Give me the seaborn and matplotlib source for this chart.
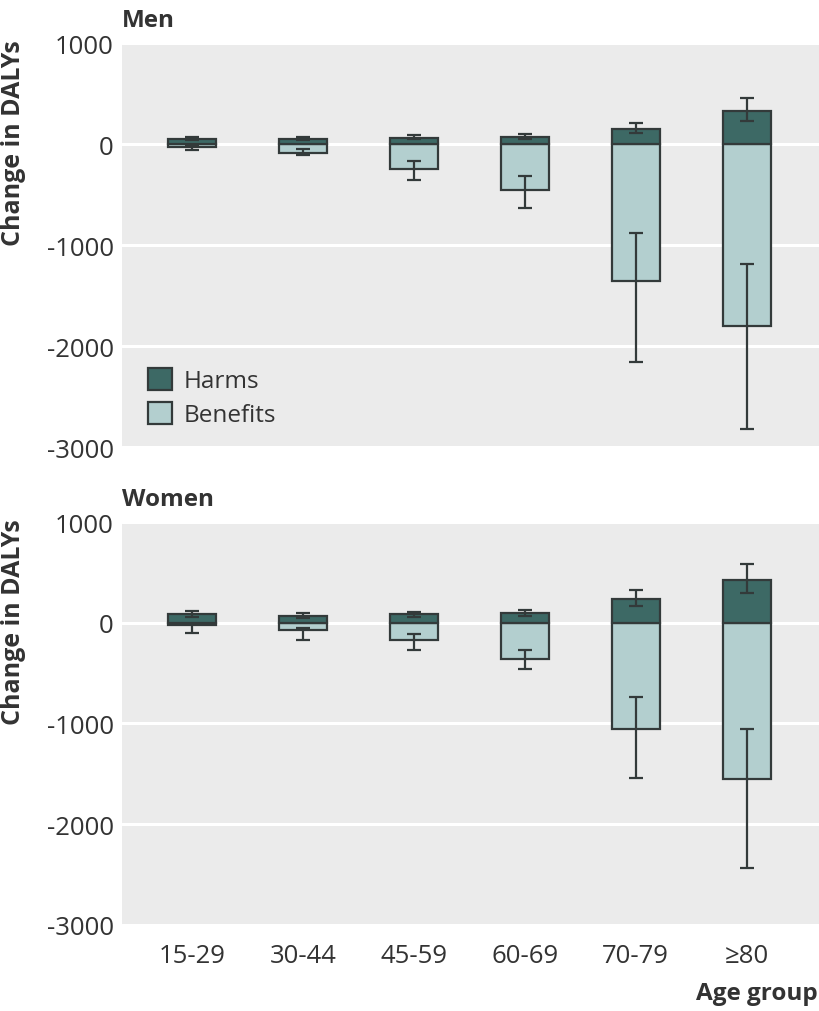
import matplotlib
matplotlib.use("Agg")
import matplotlib.pyplot as plt
import numpy as np
import pandas as pd
import seaborn as sns

# Age groups (x categories)
ages = ["15-29", "30-44", "45-59", "60-69", "70-79", "≥80"]

# Men: point estimates and intervals (change in DALYs)
men_harms = [51, 48, 64, 71, 149, 327]
men_harms_lo = [35, 35, 51, 45, 109, 228]
men_harms_hi = [74, 67, 94, 104, 205, 452]
men_benefits = [-28, -84, -252, -458, -1356, -1805]
men_benefits_lo = [-64, -111, -358, -633, -2158, -2819]
men_benefits_hi = [-10, -54, -170, -320, -878, -1191]

# Women
women_harms = [87, 66, 87, 99, 232, 424]
women_harms_lo = [60, 46, 60, 66, 166, 299]
women_harms_hi = [114, 92, 110, 125, 325, 580]
women_benefits = [-22, -73, -172, -356, -1052, -1550]
women_benefits_lo = [-102, -168, -275, -464, -1544, -2436]
women_benefits_hi = [-8, -53, -109, -266, -736, -1057]

y_ticks = [1000, 0, -1000, -2000, -3000]

HARM_COLOR = "#3d6965"
BENEFIT_COLOR = "#b3cfcf"
EDGE = "#333a3a"
TEXT = "#333333"
BG = "#ebebeb"

sns.set_theme(style="white")
plt.rcParams["font.family"] = ["Open Sans", "DejaVu Sans"]


def draw_panel(ax, harms, harms_lo, harms_hi, benefits, benefits_lo, benefits_hi, show_legend):
    df = pd.DataFrame({"age": ages, "harms": harms, "benefits": benefits})
    ax.set_facecolor(BG)
    ax.grid(axis="y", color="white", linewidth=2.2)
    ax.set_axisbelow(True)

    sns.barplot(data=df, x="age", y="benefits", order=ages, color=BENEFIT_COLOR,
                saturation=1, width=0.43, edgecolor=EDGE, linewidth=1.6,
                errorbar=None, label="Benefits", ax=ax)
    sns.barplot(data=df, x="age", y="harms", order=ages, color=HARM_COLOR,
                saturation=1, width=0.43, edgecolor=EDGE, linewidth=1.6,
                errorbar=None, label="Harms", ax=ax)

    pos = np.arange(len(ages))
    h = np.array(harms)
    b = np.array(benefits)
    ax.errorbar(pos, h, yerr=[h - np.array(harms_lo), np.array(harms_hi) - h],
                fmt="none", ecolor=EDGE, elinewidth=1.6, capsize=5, capthick=1.6, zorder=5)
    ax.errorbar(pos, b, yerr=[b - np.array(benefits_lo), np.array(benefits_hi) - b],
                fmt="none", ecolor=EDGE, elinewidth=1.6, capsize=5, capthick=1.6, zorder=5)

    ax.set_xlim(-0.63, 5.66)
    ax.set_ylim(-3000, 1000)
    ax.set_yticks(y_ticks)
    ax.set_yticklabels([str(t) for t in y_ticks])
    ax.set_xlabel("")
    ax.set_ylabel("")
    for s in ax.spines.values():
        s.set_visible(False)
    ax.tick_params(axis="y", length=0, pad=6, labelsize=18.5, labelcolor=TEXT)
    ax.tick_params(axis="x", direction="in", length=5, width=2, color="white",
                   pad=13, labelsize=18.5, labelcolor=TEXT)

    if show_legend:
        handles, labels = ax.get_legend_handles_labels()
        order = [labels.index("Harms"), labels.index("Benefits")]
        ax.legend([handles[i] for i in order], [labels[i] for i in order],
                  loc="lower left", bbox_to_anchor=(0.006, -0.005), frameon=False,
                  fontsize=17.5, handlelength=1.0, handleheight=1.0,
                  handletextpad=0.45, labelspacing=0.35, labelcolor=TEXT)
    elif ax.get_legend() is not None:
        ax.get_legend().remove()


fig = plt.figure(figsize=(8.2, 10.12), dpi=100)
ax1 = fig.add_axes([0.1488, 0.5573, 0.8512, 0.3992])
ax2 = fig.add_axes([0.1488, 0.0850, 0.8512, 0.3982])

draw_panel(ax1, men_harms, men_harms_lo, men_harms_hi,
           men_benefits, men_benefits_lo, men_benefits_hi, True)
draw_panel(ax2, women_harms, women_harms_lo, women_harms_hi,
           women_benefits, women_benefits_lo, women_benefits_hi, False)
ax1.set_xticklabels([])

ax1.set_title("Men", loc="left", pad=12, fontsize=17.5, fontweight="bold", color=TEXT)
ax2.set_title("Women", loc="left", pad=12, fontsize=17.5, fontweight="bold", color=TEXT)

fig.text(0.017, 0.9605, "Change in DALYs", rotation=90, ha="center", va="top",
         fontsize=18, fontweight="bold", color=TEXT)
fig.text(0.017, 0.487, "Change in DALYs", rotation=90, ha="center", va="top",
         fontsize=18, fontweight="bold", color=TEXT)
fig.text(0.997, 0.018, "Age group", ha="right", va="center",
         fontsize=17.5, fontweight="bold", color=TEXT)

fig.savefig("out.png", dpi=100)
